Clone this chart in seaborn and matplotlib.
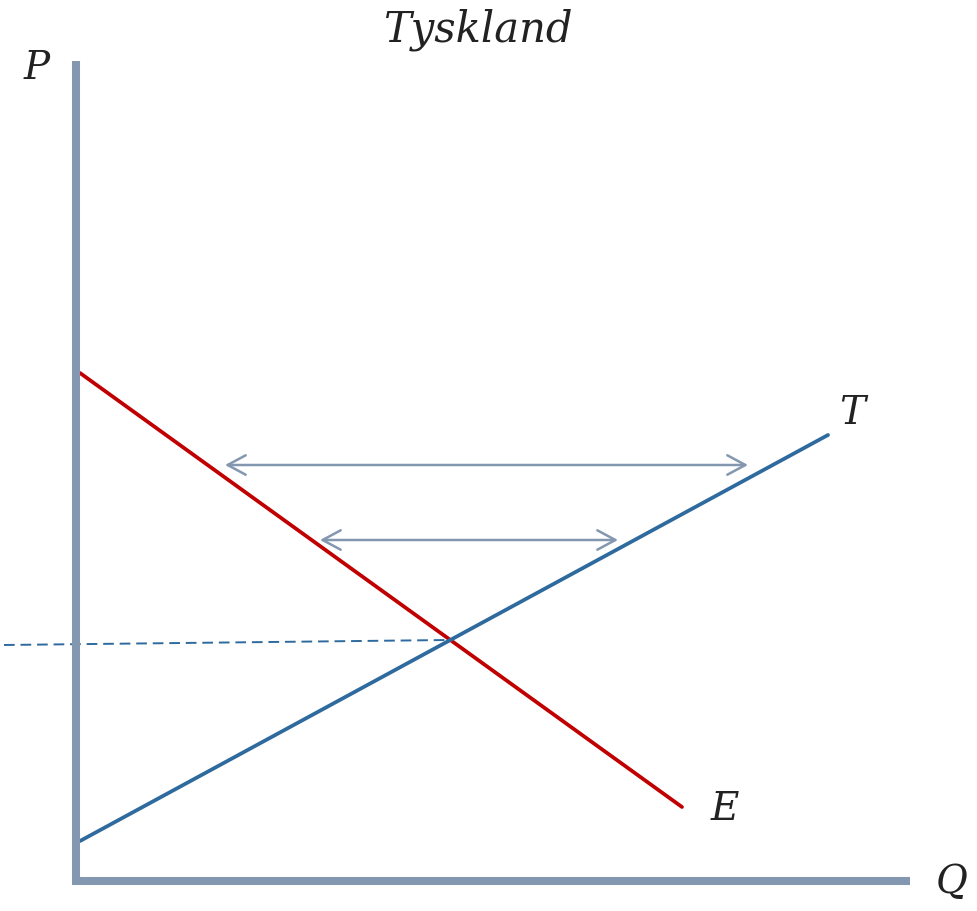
import numpy as np
import pandas as pd
import matplotlib
matplotlib.use('Agg')
import matplotlib.pyplot as plt
import seaborn as sns

sns.set_style('white')
plt.rcParams['font.family'] = ['DejaVu Serif']

# curves (Q, P) in plot units, origin at the axis corner
e_q = [4, 606]
e_p = [508, 74]
t_q = [4, 752]
t_p = [40, 446]

# dashed price level
dash_q = [-72, 372]
dash_p = [236, 241]

# horizontal double arrows: (q_start, q_end, p)
arrows = [(149, 672, 416), (244, 542, 341)]

axis_color = '#8497B0'
red = '#C00000'
blue = '#2E6A9E'

df = pd.DataFrame({
	'Q': e_q + t_q,
	'P': e_p + t_p,
	'curve': ['E', 'E', 'T', 'T'],
})

fig = plt.figure(figsize=(9.78, 9.12), dpi=100)
ax = fig.add_axes([0, 0, 1, 1])

sns.lineplot(data=df, x='Q', y='P', hue='curve', palette={'E': red, 'T': blue},
	linewidth=2.7, legend=False, ax=ax, sort=False)

ax.plot(dash_q, dash_p, color=blue, linewidth=1.4, dashes=(5.5, 3))

for q0, q1, p in arrows:
	ax.annotate('', xy=(q0, p), xytext=(q1, p),
		arrowprops=dict(arrowstyle='<->,head_length=0.65,head_width=0.35',
			color=axis_color, lw=1.8, mutation_scale=20,
			shrinkA=0, shrinkB=0))

# axes
ax.plot([0, 0], [-4, 820], color=axis_color, linewidth=5.8, solid_capstyle='butt')
ax.plot([-4, 834], [0, 0], color=axis_color, linewidth=5.8, solid_capstyle='butt')

txt = dict(fontsize=28, style='italic', color='#222222', ha='center', va='center')
ax.text(-39, 814, 'P', **txt)
ax.text(876, -1, 'Q', **txt)
ax.text(776, 469, 'T', **txt)
ax.text(649, 72, 'E', **txt)
ax.text(402, 852, 'Tyskland', **{**txt, 'fontsize': 30})

ax.set_xlim(-76, 902)
ax.set_ylim(-30, 882)
ax.axis('off')

fig.savefig('out.png', dpi=100)
